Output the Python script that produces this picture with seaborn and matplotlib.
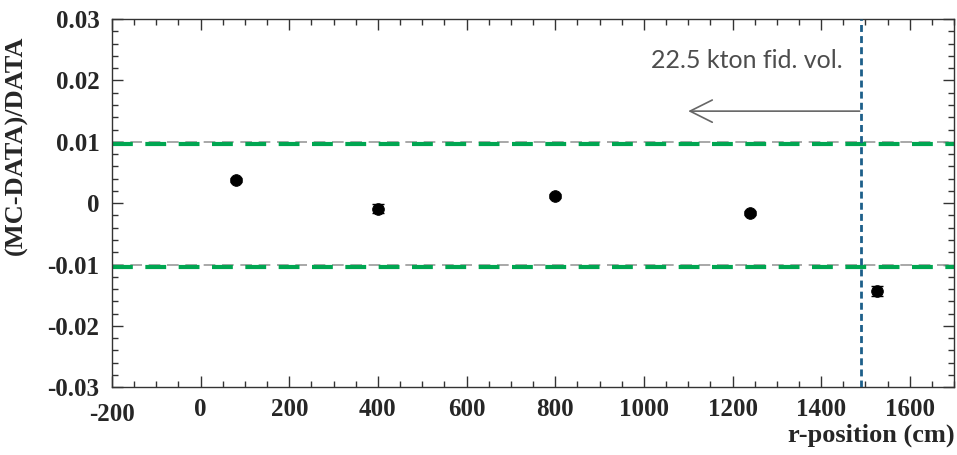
import matplotlib
matplotlib.use("Agg")
import matplotlib.pyplot as plt
import seaborn as sns
import pandas as pd
from matplotlib.ticker import MultipleLocator

# data
r_pos = [80, 400, 800, 1240, 1525]
ratio = [0.0038, -0.0009, 0.0012, -0.0016, -0.0143]
ratio_err = [0.0003, 0.0007, 0.0003, 0.0003, 0.0008]
band_green = [0.0096, -0.0104]
band_grey = [0.01, -0.01]
fid_cut = 1490
x_ticks = [-200, 0, 200, 400, 600, 800, 1000, 1200, 1400, 1600]
y_ticks = [-0.03, -0.02, -0.01, 0, 0.01, 0.02, 0.03]
y_labels = ["-0.03", "-0.02", "-0.01", "0", "0.01", "0.02", "0.03"]

df = pd.DataFrame({"r": r_pos, "ratio": ratio, "err": ratio_err})

sns.set_style("ticks")
plt.rcParams["font.family"] = ["Liberation Serif", "DejaVu Serif"]
plt.rcParams["axes.unicode_minus"] = False

fig = plt.figure(figsize=(9.57, 4.55), dpi=100)
ax = fig.add_axes([0.117, 0.149, 0.88, 0.809])

for y in band_grey:
    ax.axhline(y, color="#999999", lw=1.2, dashes=(7, 4), zorder=1)
for y in band_green:
    ax.axhline(y, color="#00a651", lw=3, dashes=(5, 3), zorder=2)
ax.axvline(fid_cut, color="#1d5f8a", lw=2, dashes=(2.5, 1.5), zorder=3)

ax.errorbar(df["r"], df["ratio"], yerr=df["err"], fmt="none",
            ecolor="black", elinewidth=1, capsize=4, zorder=4)
sns.scatterplot(data=df, x="r", y="ratio", ax=ax, color="black", s=70,
                edgecolor="black", zorder=5)

ax.annotate("", xy=(1100, 0.0150), xytext=(1487, 0.0150),
            arrowprops=dict(arrowstyle="->, head_length=1.6, head_width=0.8",
                            color="#666666", lw=1.2, shrinkA=0, shrinkB=0),
            zorder=3)
ax.text(1233, 0.0233, "22.5 kton fid. vol.", ha="center", va="center",
        fontsize=18, color="#4d4d4d", family=["Lato", "DejaVu Sans"])

ax.set_xlim(-200, 1700)
ax.set_ylim(-0.03, 0.03)
ax.xaxis.set_minor_locator(MultipleLocator(50))
ax.yaxis.set_minor_locator(MultipleLocator(0.002))
ax.set_xticks(x_ticks)
ax.set_xticklabels([str(v) for v in x_ticks])
ax.set_yticks(y_ticks)
ax.set_yticklabels(y_labels)

ax.tick_params(which="both", direction="in", top=True, right=True,
               color="#333333", labelsize=18)
ax.tick_params(which="major", length=8, width=1)
ax.tick_params(which="minor", length=4, width=1)
ax.tick_params(axis="y", pad=9)
ax.tick_params(axis="x", pad=8)
for lab in ax.get_xticklabels() + ax.get_yticklabels():
    lab.set_fontweight("bold")
ax.get_xticklabels()[0].set_y(-0.012)
for sp in ax.spines.values():
    sp.set_color("#333333")
    sp.set_linewidth(1)

ax.set_xlabel("r-position (cm)", fontsize=19, fontweight="bold", loc="right")
ax.set_ylabel("(MC-DATA)/DATA", fontsize=19, fontweight="bold", loc="top")
ax.xaxis.set_label_coords(1.0, -0.1)
ax.yaxis.set_label_coords(-0.1, 0.955)

fig.savefig("out.png", dpi=100)
